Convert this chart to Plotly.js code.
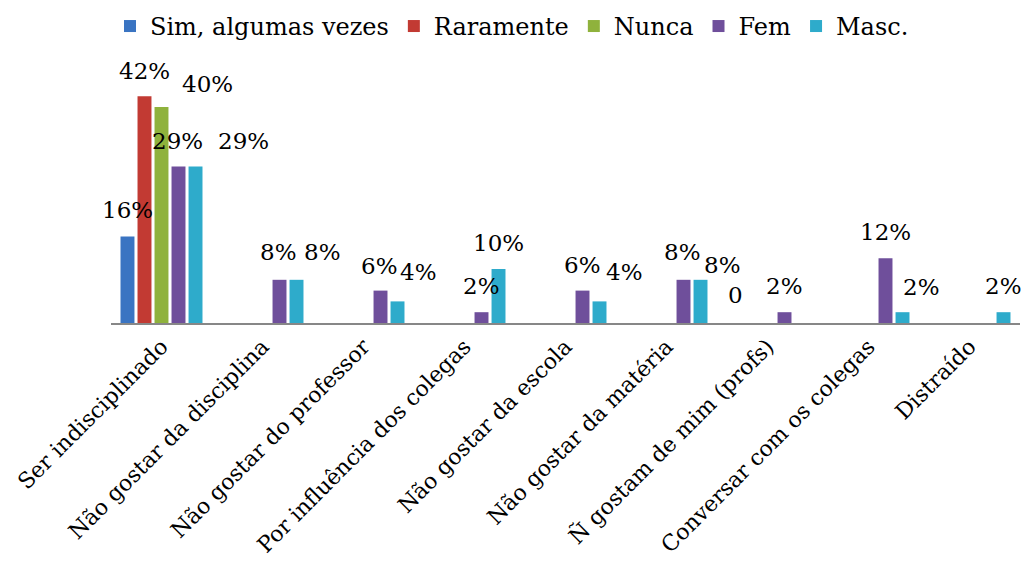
<!DOCTYPE html>
<html>
<head>
<meta charset="utf-8">
<script src="https://cdn.plot.ly/plotly-3.0.1.min.js"></script>
<style>html,body{margin:0;padding:0;background:#fff;}#chart{width:1026px;height:562px;}</style>
</head>
<body>
<div id="chart"></div>
<script>
const categories = [
  "Ser indisciplinado",
  "Não gostar da disciplina",
  "Não gostar do professor",
  "Por influência dos colegas",
  "Não gostar da escola",
  "Não gostar da matéria",
  "Ñ gostam de mim (profs)",
  "Conversar com os colegas",
  "Distraído"
];
const seriesNames = ["Sim, algumas vezes", "Raramente", "Nunca", "Fem", "Masc."];
const simAlgumasVezes = [16, null, null, null, null, null, 0, null, null];
const raramente = [42, null, null, null, null, null, null, null, null];
const nunca = [40, null, null, null, null, null, null, null, null];
const fem = [29, 8, 6, 2, 6, 8, 2, 12, null];
const masc = [29, 8, 4, 10, 4, 8, null, 2, 2];

const allSeries = [simAlgumasVezes, raramente, nunca, fem, masc];
const colors = ["#3a74c2", "#c23a33", "#8fb23c", "#6f4f9b", "#2eabcb"];

// label nudges (px, screen: +dx right, +dy down from bar top) keyed "series-category"
const labelNudge = {
  "0-0": [0, -27], "1-0": [0, -25], "2-0": [46, -23], "3-0": [-1, -25], "4-0": [48, -25],
  "3-1": [-1, -28], "4-1": [26, -28],
  "3-2": [-1, -25], "4-2": [21, -29], "4-4": [25, -29],
  "3-5": [-1, -28], "4-5": [22, -15],
  "0-6": [2, -28], "4-7": [19, -25]
};

const bargap = 0.158;
const slot = (1 - bargap) / 5;

const traces = allSeries.map((vals, i) => ({
  type: "bar",
  name: seriesNames[i],
  x: categories,
  y: vals,
  marker: { color: colors[i] },
  hoverinfo: "skip"
}));

const annotations = [];
allSeries.forEach((vals, i) => {
  vals.forEach((v, j) => {
    if (v === null) return;
    const n = labelNudge[i + "-" + j] || [0, -26];
    annotations.push({
      x: j + (i - 2) * slot,
      y: v,
      xref: "x", yref: "y",
      text: v === 0 ? "0" : v + "%",
      showarrow: false,
      xanchor: "center", yanchor: "middle",
      xshift: n[0], yshift: -n[1],
      font: { family: "DejaVu Serif", size: 23, color: "#000" }
    });
  });
});

const layout = {
  width: 1026, height: 562,
  margin: { l: 111, r: 6, t: 80, b: 239 },
  paper_bgcolor: "#fff", plot_bgcolor: "#fff",
  barmode: "group",
  bargap: bargap,
  bargroupgap: 0.18,
  showlegend: true,
  legend: {
    orientation: "h",
    xref: "container", yref: "container",
    x: 0.499, xanchor: "center",
    y: 0.993, yanchor: "top",
    font: { family: "DejaVu Serif", size: 24, color: "#000" },
    itemwidth: 30,
    traceorder: "normal"
  },
  xaxis: {
    type: "category",
    range: [-0.5, 8.5],
    tickangle: -45,
    showgrid: false,
    showline: true,
    linecolor: "#878787",
    linewidth: 2,
    ticks: "",
    tickfont: { family: "DejaVu Serif", size: 22, color: "#000" },
    automargin: false
  },
  yaxis: {
    range: [0, 45],
    visible: false,
    showgrid: false,
    zeroline: false
  },
  annotations: annotations
};

Plotly.newPlot("chart", traces, layout, { displayModeBar: false, staticPlot: true });
</script>
</body>
</html>
